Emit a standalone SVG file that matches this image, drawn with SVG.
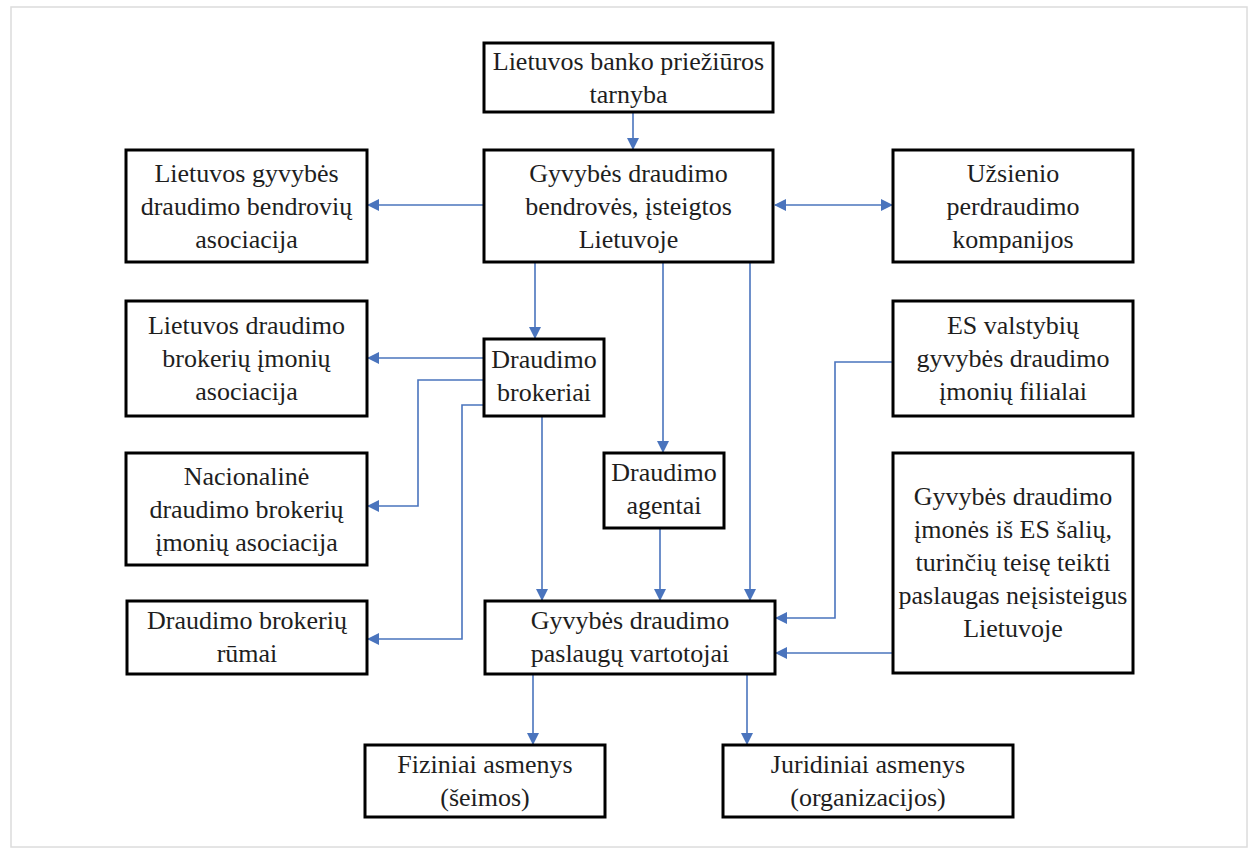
<svg xmlns="http://www.w3.org/2000/svg" width="1256" height="848" viewBox="0 0 1256 848">
<style>
.box{fill:#fff;stroke:#000;stroke-width:3}
.t{font-family:'Liberation Serif','Times New Roman',serif;font-size:26px;fill:#1e1e1e;text-anchor:middle}
.c{fill:none;stroke:#4a74bd;stroke-width:1.6}
</style>
<defs>
<marker id="ah" markerUnits="userSpaceOnUse" markerWidth="12" markerHeight="12" viewBox="0 0 12 12" refX="11" refY="6" orient="auto-start-reverse">
<path d="M0,0 L12,6 L0,12 z" fill="#4a74bd"/>
</marker>
</defs>
<rect x="0" y="0" width="1256" height="848" fill="#fff"/>
<rect x="11" y="7" width="1236" height="840" fill="none" stroke="#dcdcdc" stroke-width="1.5"/>

<g id="connectors">
<path class="c" d="M633,112 V149" marker-end="url(#ah)"/>
<path class="c" d="M484,205 H368" marker-end="url(#ah)"/>
<path class="c" d="M775,205 H892" marker-start="url(#ah)" marker-end="url(#ah)"/>
<path class="c" d="M535,262 V338" marker-end="url(#ah)"/>
<path class="c" d="M663,262 V452" marker-end="url(#ah)"/>
<path class="c" d="M750,262 V600" marker-end="url(#ah)"/>
<path class="c" d="M484,358 H368" marker-end="url(#ah)"/>
<path class="c" d="M484,380 H418 V506 H368" marker-end="url(#ah)"/>
<path class="c" d="M484,405 H462 V639 H368" marker-end="url(#ah)"/>
<path class="c" d="M542,416 V600" marker-end="url(#ah)"/>
<path class="c" d="M660,528 V600" marker-end="url(#ah)"/>
<path class="c" d="M893,362 H835 V618 H776" marker-end="url(#ah)"/>
<path class="c" d="M893,653 H776" marker-end="url(#ah)"/>
<path class="c" d="M533,674 V744" marker-end="url(#ah)"/>
<path class="c" d="M747,674 V744" marker-end="url(#ah)"/>
</g>

<g font-family="Liberation Serif, serif" font-size="26">
<g id="n1"><rect class="box" x="484" y="43" width="289" height="69"/>
<text class="t" x="628.5" y="70">Lietuvos banko priežiūros</text><text class="t" x="628.5" y="103">tarnyba</text></g>

<g id="n2"><rect class="box" x="484" y="150" width="289" height="112"/>
<text class="t" x="628.5" y="182">Gyvybės draudimo</text><text class="t" x="628.5" y="215">bendrovės, įsteigtos</text><text class="t" x="628.5" y="248">Lietuvoje</text></g>

<g id="n3"><rect class="box" x="126" y="150" width="241" height="112"/>
<text class="t" x="246.5" y="182">Lietuvos gyvybės</text><text class="t" x="246.5" y="215">draudimo bendrovių</text><text class="t" x="246.5" y="248">asociacija</text></g>

<g id="n4"><rect class="box" x="893" y="150" width="240" height="112"/>
<text class="t" x="1013" y="182">Užsienio</text><text class="t" x="1013" y="215">perdraudimo</text><text class="t" x="1013" y="248">kompanijos</text></g>

<g id="n5"><rect class="box" x="126" y="301" width="241" height="115"/>
<text class="t" x="246.5" y="334">Lietuvos draudimo</text><text class="t" x="246.5" y="367">brokerių įmonių</text><text class="t" x="246.5" y="400">asociacija</text></g>

<g id="n6"><rect class="box" x="484" y="339" width="120" height="77"/>
<text class="t" x="544" y="368">Draudimo</text><text class="t" x="544" y="401">brokeriai</text></g>

<g id="n7"><rect class="box" x="893" y="301" width="240" height="115"/>
<text class="t" x="1013" y="334">ES valstybių</text><text class="t" x="1013" y="367">gyvybės draudimo</text><text class="t" x="1013" y="400">įmonių filialai</text></g>

<g id="n8"><rect class="box" x="604" y="453" width="120" height="75"/>
<text class="t" x="664" y="481">Draudimo</text><text class="t" x="664" y="514">agentai</text></g>

<g id="n9"><rect class="box" x="126" y="453" width="241" height="112"/>
<text class="t" x="246.5" y="485">Nacionalinė</text><text class="t" x="246.5" y="518">draudimo brokerių</text><text class="t" x="246.5" y="551">įmonių asociacija</text></g>

<g id="n10"><rect class="box" x="893" y="453" width="240" height="220"/>
<text class="t" x="1013" y="505">Gyvybės draudimo</text><text class="t" x="1013" y="538">įmonės iš ES šalių,</text><text class="t" x="1013" y="571">turinčių teisę teikti</text><text class="t" x="1013" y="604">paslaugas neįsisteigus</text><text class="t" x="1013" y="637">Lietuvoje</text></g>

<g id="n11"><rect class="box" x="127" y="601" width="240" height="73"/>
<text class="t" x="247" y="629">Draudimo brokerių</text><text class="t" x="247" y="662">rūmai</text></g>

<g id="n12"><rect class="box" x="485" y="601" width="290" height="73"/>
<text class="t" x="630" y="629">Gyvybės draudimo</text><text class="t" x="630" y="662">paslaugų vartotojai</text></g>

<g id="n13"><rect class="box" x="365" y="745" width="240" height="72"/>
<text class="t" x="485" y="773">Fiziniai asmenys</text><text class="t" x="485" y="806">(šeimos)</text></g>

<g id="n14"><rect class="box" x="723" y="745" width="290" height="72"/>
<text class="t" x="868" y="773">Juridiniai asmenys</text><text class="t" x="868" y="806">(organizacijos)</text></g>
</g>
</svg>
